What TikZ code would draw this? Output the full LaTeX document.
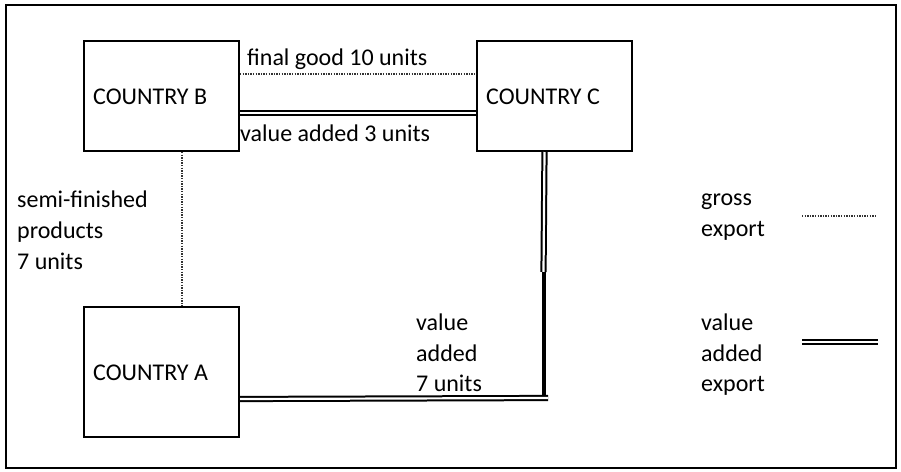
\documentclass[tikz,border=0pt]{standalone}
\usepackage{fontspec}
\setmainfont{Carlito}
\begin{document}
\begin{tikzpicture}[x=1pt,y=-1pt,
  country/.style={draw, line width=2pt, minimum width=155pt, minimum height=110pt, anchor=north west, inner sep=0pt},
  lbl/.style={font=\fontsize{24}{29}\selectfont, anchor=base west, inner sep=0pt},
  grossline/.style={line width=1.3pt, black!80, dash pattern=on 1.3pt off 1.3pt},
  vaddline/.style={draw=black, double=white, line width=2pt, double distance=2.2pt},
  thickline/.style={line width=4pt}
]
\useasboundingbox (0,0) rectangle (901,471);
\draw[line width=2pt] (6,5) rectangle (896,468);

\node[country] (B) at (83,40) {};
\node[country] (C) at (476,40) {};
\node[country, minimum height=130pt] (A) at (83,306) {};

\node[lbl] (tB) at (93,104) {COUNTRY B};
\node[lbl] (tC) at (486,104) {COUNTRY C};
\node[lbl] (tA) at (93,380) {COUNTRY A};

% B - C
\draw[grossline] ([yshift=22pt]B.east) -- ([yshift=22pt]C.west);
\draw[vaddline] ([yshift=-17pt]B.east) -- ([yshift=-17pt]C.west);
\node[lbl] (fg) at (247,65) {final good 10 units};
\node[lbl] (va3) at (240,141) {value added 3 units};

% B - A
\draw[grossline] ([xshift=20.5pt]B.south) -- ([xshift=20.5pt]A.north);
\node[lbl] (sf1) at (17,207) {semi-finished};
\node[lbl] (sf2) at (17,238) {products};
\node[lbl] (sf3) at (17,269) {7 units};

% C - A
\coordinate (turn) at (543.5,272);
\coordinate (corner) at (548,398);
\draw[vaddline] ([xshift=-10pt]C.south) -- (turn);
\draw[thickline] (turn) -- (turn |- 0,396);
\draw[vaddline] ([yshift=-27pt]A.east) -- (corner);
\node[lbl] (va71) at (416,330) {value};
\node[lbl] (va72) at (416,361) {added};
\node[lbl] (va73) at (416,391) {7 units};

% legend
\node[lbl] (lg11) at (701,205) {gross};
\node[lbl] (lg12) at (701,236) {export};
\coordinate (g1) at (802,216);
\coordinate (g2) at (877,216);
\draw[grossline] (g1) -- (g2);
\node[lbl] (lg21) at (701,330) {value};
\node[lbl] (lg22) at (701,361) {added};
\node[lbl] (lg23) at (701,391) {export};
\coordinate (v1) at (802,342);
\coordinate (v2) at (878,342);
\draw[vaddline] (v1) -- (v2);
\end{tikzpicture}
\end{document}
